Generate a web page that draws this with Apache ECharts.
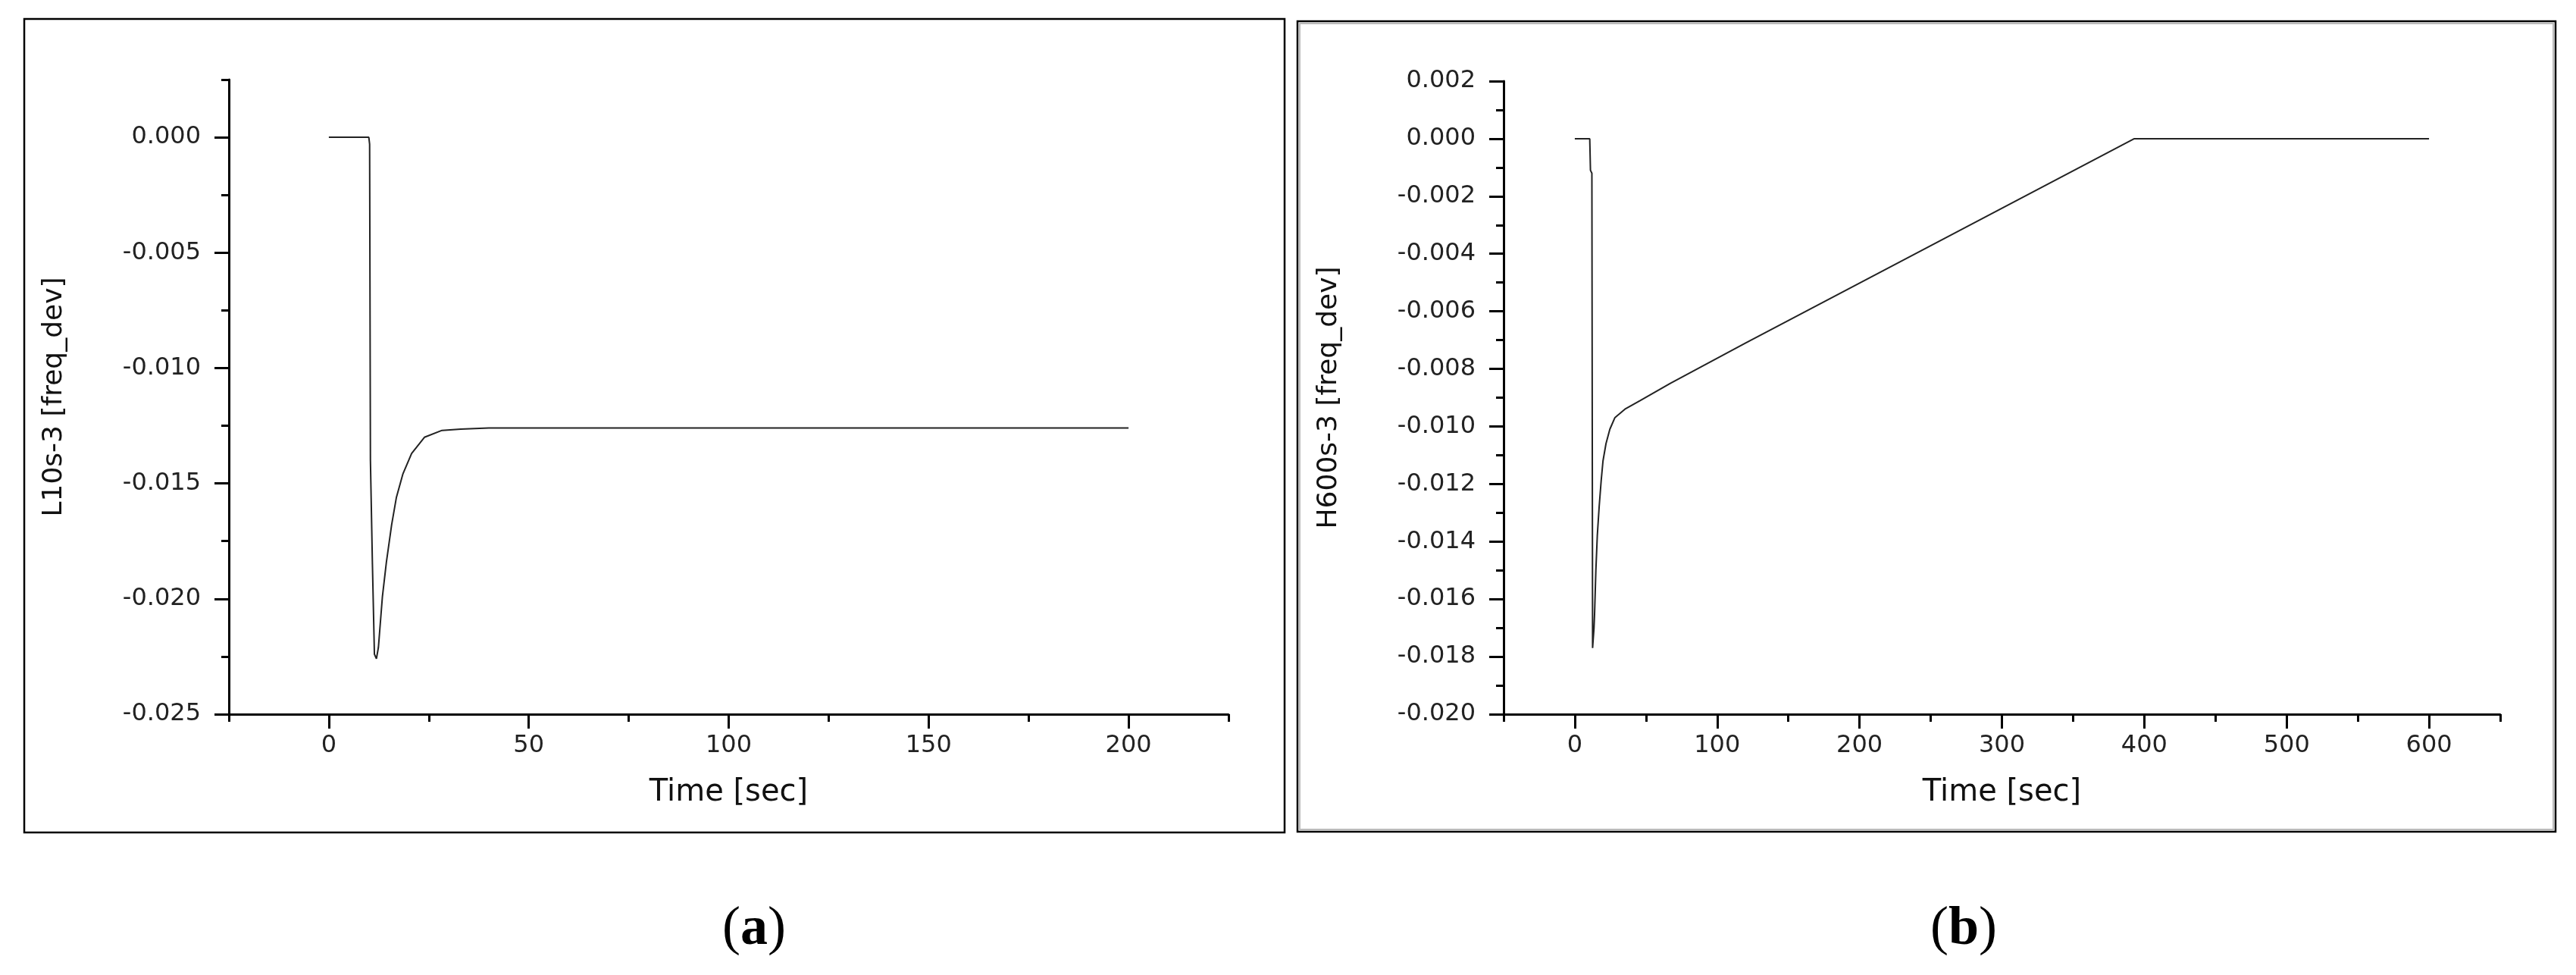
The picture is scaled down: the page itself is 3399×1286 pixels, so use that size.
<!DOCTYPE html>
<html>
<head>
<meta charset="utf-8">
<script src="https://cdn.jsdelivr.net/npm/echarts@6/dist/echarts.min.js"></script>
<style>
html,body{margin:0;padding:0;background:#fff;}
#chart{width:3399px;height:1286px;}
</style>
</head>
<body>
<div id="chart"></div>
<script>
// ---- Panel (a): L10s-3 ----
const timeA = [0, 10, 10.2, 10.4, 10.9, 11.4, 11.9, 12.4, 13.4, 14.4, 15.7, 16.9, 18.5, 20.7, 23.9, 28.3, 33, 40, 200];
const freqA = [0, 0, -0.0003, -0.0140, -0.0185, -0.0224, -0.0226, -0.0221, -0.0199, -0.0184, -0.0168, -0.0156, -0.0146, -0.0137, -0.0130, -0.0127, -0.01265, -0.0126, -0.0126];
const xMajorA = [0, 50, 100, 150, 200];
const xMinorA = [-25, 25, 75, 125, 175, 225];
const yMajorA = [0, -0.005, -0.010, -0.015, -0.020, -0.025];
const yMinorA = [0.0025, -0.0025, -0.0075, -0.0125, -0.0175, -0.0225];

// ---- Panel (b): H600s-3 ----
const timeB = [0, 10.5, 11, 12, 12.5, 13.5, 13.9, 14.8, 15.8, 17.1, 18.5, 19.8, 21.9, 24.6, 28.1, 35.2, 45.9, 67.1, 120, 393, 600];
const freqB = [0, 0, -0.0011, -0.0012, -0.0177, -0.0170, -0.0165, -0.0150, -0.0138, -0.0128, -0.0119, -0.0112, -0.0106, -0.0101, -0.0097, -0.0094, -0.0091, -0.0085, -0.0071, 0, 0];
const xMajorB = [0, 100, 200, 300, 400, 500, 600];
const xMinorB = [-50, 50, 150, 250, 350, 450, 550, 650];
const yMajorB = [0.002, 0, -0.002, -0.004, -0.006, -0.008, -0.010, -0.012, -0.014, -0.016, -0.018, -0.020];
const yMinorB = [0.001, -0.001, -0.003, -0.005, -0.007, -0.009, -0.011, -0.013, -0.015, -0.017, -0.019];

const yTitleA = 'L10s-3 [freq_dev]';
const yTitleB = 'H600s-3 [freq_dev]';
const xTitle = 'Time [sec]';

const FONT = 'DejaVu Sans';
const lineCol = '#000';

function xAxes(grid, min, max, major, minor) {
  return [
    {
      gridIndex: grid, type: 'value', position: 'bottom', min: min, max: max,
      axisLine: { onZero: false, lineStyle: { color: lineCol, width: 3 } },
      axisTick: { customValues: major, length: 19, lineStyle: { color: lineCol, width: 3 } },
      axisLabel: { customValues: major, margin: 26, fontSize: 32, fontFamily: FONT, color: '#222' },
      splitLine: { show: false },
      name: xTitle, nameLocation: 'middle', nameGap: 84,
      nameTextStyle: { fontSize: 40, fontFamily: FONT, color: '#111' }
    },
    {
      gridIndex: grid, type: 'value', position: 'bottom', min: min, max: max,
      axisLine: { show: false, onZero: false },
      axisTick: { customValues: minor, length: 10, lineStyle: { color: lineCol, width: 3 } },
      axisLabel: { show: false },
      splitLine: { show: false }
    }
  ];
}
function yAxes(grid, min, max, major, minor, title) {
  return [
    {
      gridIndex: grid, type: 'value', position: 'left', min: min, max: max,
      axisLine: { show: true, onZero: false, lineStyle: { color: lineCol, width: 3 } },
      axisTick: { show: true, customValues: major, length: 19, lineStyle: { color: lineCol, width: 3 } },
      axisLabel: { customValues: major, margin: 37, fontSize: 32, fontFamily: FONT, color: '#222',
        formatter: v => v.toFixed(3) },
      splitLine: { show: false },
      name: title, nameLocation: 'middle', nameGap: 212,
      nameTextStyle: { fontSize: 36, fontFamily: FONT, color: '#111' }
    },
    {
      gridIndex: grid, type: 'value', position: 'left', min: min, max: max,
      axisLine: { show: false, onZero: false },
      axisTick: { show: true, customValues: minor, length: 10, lineStyle: { color: lineCol, width: 3 } },
      axisLabel: { show: false },
      splitLine: { show: false }
    }
  ];
}

const dataA = timeA.map((t, i) => [t, freqA[i]]);
const dataB = timeB.map((t, i) => [t, freqB[i]]);

const chart = echarts.init(document.getElementById('chart'));
chart.setOption({
  backgroundColor: '#fff',
  animation: false,
  textStyle: { fontFamily: FONT },
  grid: [
    { left: 302, top: 105, width: 1319, height: 837 },
    { left: 1984, top: 107, width: 1315, height: 835 }
  ],
  xAxis: [].concat(xAxes(0, -25, 225, xMajorA, xMinorA), xAxes(1, -50, 650, xMajorB, xMinorB)),
  yAxis: [].concat(yAxes(0, -0.025, 0.0025, yMajorA, yMinorA, yTitleA), yAxes(1, -0.020, 0.002, yMajorB, yMinorB, yTitleB)),
  series: [
    { type: 'line', xAxisIndex: 0, yAxisIndex: 0, data: dataA, showSymbol: false,
      lineStyle: { color: '#222', width: 2 } },
    { type: 'line', xAxisIndex: 2, yAxisIndex: 2, data: dataB, showSymbol: false,
      lineStyle: { color: '#222', width: 2 } }
  ],
  graphic: [
    { type: 'rect', shape: { x: 32, y: 25, width: 1663, height: 1073 },
      style: { fill: 'none', stroke: '#000', lineWidth: 2.5 }, silent: true },
    { type: 'rect', shape: { x: 1712, y: 28, width: 1660, height: 1069 },
      style: { fill: 'none', stroke: '#000', lineWidth: 2.5 }, silent: true },
    { type: 'rect', shape: { x: 1715, y: 31, width: 1654, height: 1063 },
      style: { fill: 'none', stroke: '#bbb', lineWidth: 2 }, silent: true },
    { type: 'text', x: 995, y: 1226,
      style: { text: '{p|(}{b|a}{p|)}', textAlign: 'center', textVerticalAlign: 'middle',
        rich: { p: { fontFamily: 'Liberation Serif', fontSize: 72, fill: '#000' },
                b: { fontFamily: 'Liberation Serif', fontSize: 72, fontWeight: 'bold', fill: '#000' } } } },
    { type: 'text', x: 2591, y: 1226,
      style: { text: '{p|(}{b|b}{p|)}', textAlign: 'center', textVerticalAlign: 'middle',
        rich: { p: { fontFamily: 'Liberation Serif', fontSize: 72, fill: '#000' },
                b: { fontFamily: 'Liberation Serif', fontSize: 72, fontWeight: 'bold', fill: '#000' } } } }
  ]
});
</script>
</body>
</html>
